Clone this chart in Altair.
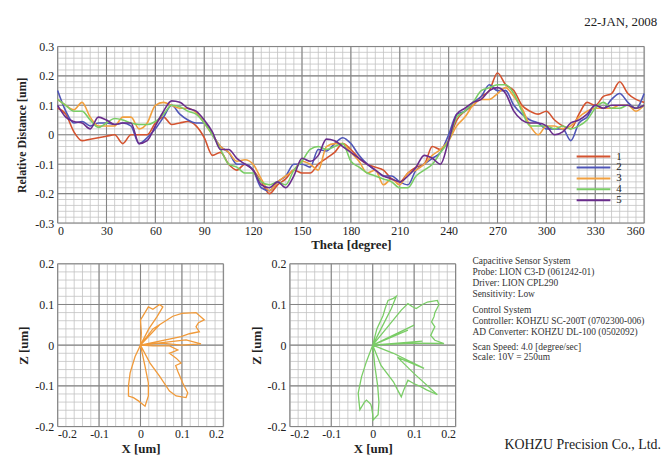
import altair as alt
import numpy as np
import pandas as pd

# ---------------- data ----------------
theta = list(range(0, 361, 5))
s1 = [0.09, 0.07, 0.01, -0.02, -0.015, -0.01, -0.005, 0.0, -0.03, 0.0, 0.0, 0.0, 0.04, 0.06, 0.035, 0.04, 0.045, 0.03, -0.01, -0.07,
      -0.06, -0.1, -0.12, -0.1, -0.12, -0.16, -0.2, -0.17, -0.15, -0.12, -0.13, -0.13, -0.1, -0.08, -0.06, -0.03, -0.05, -0.08, -0.1, -0.11,
      -0.12, -0.15, -0.16, -0.13, -0.11, -0.1, -0.04, -0.05, -0.02, 0.05, 0.08, 0.1, 0.13, 0.15, 0.21, 0.17, 0.15, 0.1, 0.08, 0.07,
      0.08, 0.05, 0.03, 0.02, 0.07, 0.11, 0.1, 0.13, 0.14, 0.18, 0.14, 0.12, 0.11]
s2 = [0.15, 0.08, 0.04, 0.045, 0.03, 0.04, 0.04, 0.035, 0.04, 0.03, -0.03, -0.01, 0.02, 0.06, 0.1, 0.07, 0.05, 0.04, 0.04, 0.0,
      -0.04, -0.06, -0.1, -0.1, -0.12, -0.18, -0.19, -0.16, -0.14, -0.1, -0.1, -0.11, -0.05, -0.055, -0.03, -0.01, -0.03, -0.07, -0.1, -0.12,
      -0.14, -0.14, -0.16, -0.17, -0.12, -0.1, -0.08, -0.06, 0.0, 0.07, 0.08, 0.11, 0.13, 0.17, 0.15, 0.15, 0.1, 0.07, 0.05, 0.04,
      0.02, 0.02, 0.02, -0.02, 0.04, 0.06, 0.1, 0.09, 0.12, 0.14, 0.11, 0.09, 0.14]
s3 = [0.12, 0.1, 0.085, 0.11, 0.06, 0.03, 0.03, 0.03, 0.06, 0.06, 0.02, 0.04, 0.1, 0.11, 0.1, 0.09, 0.09, 0.075, 0.04, 0.0,
      -0.04, -0.06, -0.09, -0.085, -0.1, -0.15, -0.19, -0.16, -0.14, -0.12, -0.09, -0.1, -0.12, -0.04, -0.03, -0.03, -0.06, -0.09, -0.13, -0.12,
      -0.17, -0.15, -0.17, -0.13, -0.12, -0.1, -0.07, -0.05, -0.02, 0.03, 0.06, 0.1, 0.12, 0.12, 0.14, 0.16, 0.13, 0.09, 0.03, 0.0,
      0.03, 0.03, 0.02, 0.03, 0.06, 0.08, 0.09, 0.09, 0.09, 0.1, 0.1, 0.08, 0.1]
s4 = [0.12, 0.1, 0.08, 0.08, 0.05, 0.025, 0.04, 0.055, 0.05, 0.04, 0.035, 0.035, 0.045, 0.07, 0.1, 0.095, 0.08, 0.07, 0.04, 0.0,
      -0.05, -0.1, -0.11, -0.13, -0.13, -0.16, -0.17, -0.16, -0.17, -0.12, -0.09, -0.05, -0.04, -0.05, -0.04, -0.03, -0.09, -0.11, -0.13, -0.14,
      -0.15, -0.16, -0.18, -0.18, -0.14, -0.12, -0.1, -0.06, -0.02, 0.06, 0.08, 0.11, 0.15, 0.16, 0.17, 0.17, 0.14, 0.08, 0.03, 0.03,
      0.03, 0.02, 0.03, 0.02, 0.03, 0.05, 0.09, 0.11, 0.09, 0.09, 0.1, 0.09, 0.1]
s5 = [0.1, 0.06, 0.045, 0.04, 0.02, 0.06, 0.05, 0.035, 0.04, 0.04, -0.03, -0.02, 0.03, 0.08, 0.115, 0.11, 0.09, 0.08, 0.05, 0.01,
      -0.05, -0.05, -0.08, -0.1, -0.12, -0.17, -0.18, -0.16, -0.18, -0.14, -0.08, -0.09, -0.07, -0.015, -0.02, -0.04, -0.06, -0.08, -0.1, -0.12,
      -0.14, -0.15, -0.16, -0.14, -0.11, -0.07, -0.08, -0.1, -0.02, 0.07, 0.09, 0.11, 0.12, 0.15, 0.16, 0.14, 0.08, 0.05, 0.04, 0.04,
      0.03, 0.0, 0.01, 0.04, 0.05, 0.07, 0.1, 0.09, 0.1, 0.1, 0.1, 0.09, 0.1]
series_names = ["1", "2", "3", "4", "5"]
series_colors = ["#d4532f", "#4f56b8", "#f2a03e", "#7acd66", "#6a2d8c"]

# polar trace, run 3 (orange)
px3 = [0, 0.002, 0.0, 0.005, 0.019, 0.03, 0.046, 0.054, 0.04, 0.02, 0,
       0.03, 0.078, 0.1, 0.134, 0.154, 0.14, 0.134, 0.142, 0.118, 0.098, 0, 0.046, 0, 0.11, 0.146, 0.1, 0.05, 0,
       0.03, 0.07, 0.09, 0.07, 0.086, 0.098, 0.085, 0.09, 0.102, 0.114, 0.11, 0.086, 0.07, 0.046, 0.023, 0,
       -0.013, -0.025, -0.029, -0.029, -0.017, -0.005, 0.011, 0.019, 0.019, 0.011, 0]
pz3 = [0, 0.03, 0.062, 0.07, 0.094, 0.088, 0.1, 0.094, 0.07, 0.04, 0,
       0.04, 0.071, 0.078, 0.08, 0.062, 0.055, 0.045, 0.033, 0.028, 0.021, 0, 0.05, 0, 0.013, 0.003, 0.0, 0.005, 0,
       -0.002, -0.002, -0.012, -0.02, -0.032, -0.044, -0.05, -0.064, -0.093, -0.117, -0.129, -0.125, -0.113, -0.076, -0.044, 0,
       -0.028, -0.068, -0.1, -0.125, -0.129, -0.137, -0.15, -0.125, -0.093, -0.052, 0]
# polar trace, run 4 (green)
px4 = [0, 0.01, 0.025, 0.03, 0.037, 0.05, 0.057, 0.045, 0.02, 0,
       0.04, 0.069, 0.085, 0.095, 0.105, 0.12, 0.132, 0.156, 0.16, 0.15, 0.148, 0.142, 0.15, 0.145, 0.14, 0.15, 0.172, 0.1, 0,
       0.1, 0, 0.085, 0, 0.12, 0,
       0.05, 0.124, 0.06, 0.1, 0.156, 0.13, 0.116, 0.1, 0.085, 0.075, 0.069, 0.06, 0.05, 0.02, 0,
       -0.015, -0.027, -0.035, -0.033, -0.031, -0.02, -0.015, -0.005, -0.003, 0.0, 0.001, 0.013, 0.015, 0.012, 0.005, 0]
pz4 = [0, 0.04, 0.073, 0.09, 0.11, 0.115, 0.12, 0.09, 0.04, 0,
       0.05, 0.086, 0.102, 0.095, 0.09, 0.1, 0.106, 0.11, 0.1, 0.08, 0.07, 0.057, 0.045, 0.035, 0.024, 0.012, 0.004, 0.005, 0,
       0.049, 0, 0.037, 0, 0.01, 0,
       -0.02, -0.057, -0.03, -0.07, -0.122, -0.11, -0.102, -0.095, -0.086, -0.11, -0.127, -0.11, -0.09, -0.05, 0,
       -0.04, -0.078, -0.118, -0.14, -0.159, -0.14, -0.135, -0.145, -0.151, -0.17, -0.184, -0.171, -0.14, -0.1, -0.05, 0]

info_lines = ["Capacitive Sensor System", " Probe: LION C3-D (061242-01)", " Driver: LION CPL290", " Sensitivity: Low",
              "Control System", " Controller: KOHZU SC-200T (0702300-006)", " AD Converter: KOHZU DL-100 (0502092)",
              " Scan Speed: 4.0 [degree/sec]", " Scale: 10V = 250um"]
info_rows = [0, 1, 2, 3, 4.5, 5.5, 6.5, 7.9, 8.8]
company = "KOHZU Precision Co., Ltd."
date_text = "22-JAN, 2008"

FONT = "Liberation Serif"
MINOR = "#c2c2c2"
MAJOR = "#858585"
INK = "#222222"


def fmt_expr():
    return ("datum.value == 0 ? '0' : (datum.value < 0 ? '-' + format(-datum.value, '.1f') : format(datum.value, '.1f'))")


def grid_layers(xdom, ydom, xminor, yminor, xmajor, ymajor, xenc, yenc):
    xs_minor = pd.DataFrame({"v": np.round(np.arange(xdom[0], xdom[1] + 1e-9, xminor), 4)})
    ys_minor = pd.DataFrame({"v": np.round(np.arange(ydom[0], ydom[1] + 1e-9, yminor), 4)})
    xs_major = pd.DataFrame({"v": np.round(np.arange(xdom[0], xdom[1] + 1e-9, xmajor), 4)})
    ys_major = pd.DataFrame({"v": np.round(np.arange(ydom[0], ydom[1] + 1e-9, ymajor), 4)})
    layers = []
    for df, ch, col, w in [(xs_minor, "x", MINOR, 0.8), (ys_minor, "y", MINOR, 0.8),
                           (xs_major, "x", MAJOR, 1.1), (ys_major, "y", MAJOR, 1.1)]:
        enc = {ch: xenc("v") if ch == "x" else yenc("v")}
        layers.append(alt.Chart(df).mark_rule(color=col, strokeWidth=w).encode(**enc))
    return layers


# ---------------- top chart ----------------
rows = []
for name, vals in zip(series_names, [s1, s2, s3, s4, s5]):
    for t, v in zip(theta, vals):
        rows.append({"theta": t, "d": v, "run": name})
df_top = pd.DataFrame(rows)

top_x_axis = alt.Axis(values=list(range(0, 361, 30)), grid=False, ticks=False, domain=False,
                      labelFont=FONT, labelFontSize=12, labelColor=INK, labelPadding=3,
                      title="Theta [degree]", titleFont=FONT, titleFontSize=13, titleFontWeight="bold",
                      titleColor=INK, titlePadding=2)
top_y_axis = alt.Axis(values=[-0.3, -0.2, -0.1, 0, 0.1, 0.2, 0.3], grid=False, ticks=False, domain=False,
                      labelExpr=fmt_expr(), labelFont=FONT, labelFontSize=12, labelColor=INK, labelPadding=4,
                      title="Relative Distance [um]", titleFont=FONT, titleFontSize=12, titleFontWeight="bold",
                      titleColor=INK, titlePadding=6)
tx_scale = alt.Scale(domain=[0, 360], nice=False, zero=False)
ty_scale = alt.Scale(domain=[-0.3, 0.3], nice=False, zero=False)


def tx(f):
    return alt.X(f + ":Q", scale=tx_scale, axis=top_x_axis)


def ty(f):
    return alt.Y(f + ":Q", scale=ty_scale, axis=top_y_axis)


top_lines = alt.Chart(df_top).mark_line(strokeWidth=1.6, interpolate="monotone").encode(
    x=tx("theta"), y=ty("d"),
    color=alt.Color("run:N", scale=alt.Scale(domain=series_names, range=series_colors),
                    legend=alt.Legend(orient="none", legendX=534, legendY=105, title=None, padding=0,
                                      symbolType="M-3.4,0H3.4", symbolSize=100, symbolStrokeWidth=2,
                                      labelFont=FONT, labelFontSize=11, labelColor=INK,
                                      rowPadding=0, labelOffset=17)),
)
top = alt.layer(*grid_layers([0, 360], [-0.3, 0.3], 5, 0.02, 30, 0.1, tx, ty), top_lines).properties(
    width=591, height=178,
    title=alt.TitleParams(date_text, anchor="end", font=FONT, fontSize=13, fontWeight="normal",
                          color=INK, dx=10, offset=12),
)

# ---------------- polar panels ----------------
pol_scale = dict(domain=[-0.2, 0.2], nice=False, zero=False)


def polar_panel(xs, zs, color):
    pxa = alt.Axis(values=[-0.2, -0.1, 0, 0.1, 0.2], grid=False, ticks=False, domain=False,
                   labelExpr=fmt_expr(), labelFont=FONT, labelFontSize=12, labelColor=INK, labelPadding=2,
                   title="X [um]", titleFont=FONT, titleFontSize=13, titleFontWeight="bold",
                   titleColor=INK, titlePadding=3)
    pza = alt.Axis(values=[-0.2, -0.1, 0, 0.1, 0.2], grid=False, ticks=False, domain=False,
                   labelExpr=fmt_expr(), labelFont=FONT, labelFontSize=12, labelColor=INK, labelPadding=4,
                   title="Z [um]", titleFont=FONT, titleFontSize=13, titleFontWeight="bold",
                   titleColor=INK, titlePadding=4)
    sx = alt.Scale(**pol_scale)
    sz = alt.Scale(**pol_scale)

    def fx(f):
        return alt.X(f + ":Q", scale=sx, axis=pxa)

    def fz(f):
        return alt.Y(f + ":Q", scale=sz, axis=pza)

    d = pd.DataFrame({"x": xs, "z": zs, "i": list(range(len(xs)))})
    line = alt.Chart(d).mark_line(color=color, strokeWidth=1.3).encode(
        x=fx("x"), y=fz("z"), order="i:Q")
    return alt.layer(*grid_layers([-0.2, 0.2], [-0.2, 0.2], 0.02, 0.02, 0.1, 0.1, fx, fz), line).properties(
        width=167, height=164)


p1 = polar_panel(px3, pz3, "#f09a3a")
p2 = polar_panel(px4, pz4, "#7acd66")

# ---------------- info text ----------------
info_df = pd.DataFrame({"t": info_lines, "r": info_rows})
row_scale = alt.Scale(domain=[0, 10], range=[-3, 107])
info = alt.Chart(info_df).mark_text(align="left", baseline="middle", font=FONT, fontSize=9.5, color="#333333").encode(
    y=alt.Y("r:Q", scale=row_scale, axis=None), x=alt.value(-50), text="t:N")
comp = alt.Chart(pd.DataFrame({"t": [company], "r": [16.9]})).mark_text(
    align="right", baseline="middle", font=FONT, fontSize=14, color="#222222").encode(
    y=alt.Y("r:Q", scale=row_scale, axis=None), x=alt.value(140), text="t:N")
txt = alt.layer(info, comp).properties(width=120, height=164,
                                       view=alt.ViewBackground(stroke="transparent", strokeWidth=0))

bottom = alt.hconcat(p1, p2, txt, spacing=67, bounds="flush")
chart = alt.vconcat(top, bottom, spacing=41, bounds="flush").configure_view(
    stroke="#1e1e1e", strokeWidth=2
).configure(background="white", padding={"left": 7, "top": 5, "right": 0, "bottom": 0})

chart.save("out.html", embed_options={"renderer": "svg", "actions": False})
